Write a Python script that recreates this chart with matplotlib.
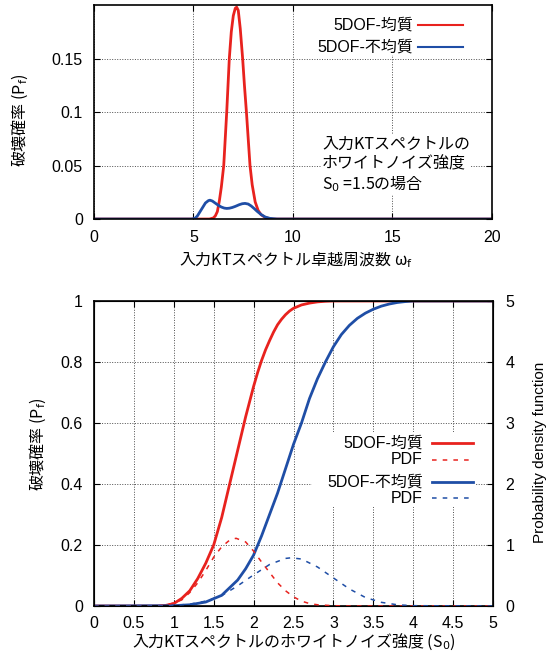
import matplotlib
matplotlib.use("Agg")
import matplotlib.pyplot as plt
from matplotlib.patches import Rectangle
from matplotlib.ticker import FuncFormatter

plt.rcParams['font.family'] = ['Liberation Sans', 'Noto Sans CJK JP', 'DejaVu Sans']
plt.rcParams['font.size'] = 11.5
JP = ['Noto Sans CJK JP', 'DejaVu Sans']  # for texts with mathtext parts

RED = '#e8221e'
BLUE = '#1f4ea6'

# top: failure probability vs predominant frequency (S0 = 1.5)
w_homo = [0, 5.8, 6.0, 6.1, 6.2, 6.3, 6.4, 6.52, 6.67, 6.8, 6.9, 7.0, 7.1, 7.17, 7.25, 7.35,
          7.47, 7.56, 7.66, 7.75, 7.84, 7.95, 8.1, 8.25, 8.4, 8.6, 8.8, 9.0, 20]
pf_homo = [0, 0, 0.001, 0.003, 0.007, 0.017, 0.03, 0.05, 0.10, 0.15, 0.175, 0.19, 0.197, 0.198,
           0.195, 0.178, 0.15, 0.125, 0.10, 0.075, 0.05, 0.032, 0.016, 0.008, 0.004, 0.0015,
           0.0005, 0, 0]
w_hetero = [0, 4.9, 5.0, 5.1, 5.2, 5.4, 5.6, 5.75, 5.83, 5.95, 6.1, 6.25, 6.4, 6.55, 6.67, 6.8,
            6.95, 7.1, 7.3, 7.45, 7.59, 7.75, 7.9, 8.05, 8.2, 8.4, 8.6, 8.84, 9.2, 20]
pf_hetero = [0, 0, 0.0003, 0.001, 0.003, 0.009, 0.015, 0.0172, 0.0176, 0.0168, 0.0148, 0.0128,
             0.0112, 0.0102, 0.0099, 0.0101, 0.0108, 0.0118, 0.0134, 0.0143, 0.0146, 0.0140,
             0.0122, 0.0098, 0.0072, 0.0042, 0.0019, 0.0006, 0, 0]

# bottom: failure probability and PDF vs white noise intensity S0
s_cdf_homo = [0, 0.8, 0.9, 1.0, 1.1, 1.2, 1.3, 1.4, 1.5, 1.6, 1.7, 1.8, 1.9, 2.0, 2.05, 2.1,
              2.15, 2.2, 2.25, 2.3, 2.35, 2.4, 2.45, 2.5, 2.6, 2.7, 2.8, 2.9, 3.0, 5]
cdf_homo = [0, 0, 0.002, 0.008, 0.025, 0.05, 0.09, 0.14, 0.20, 0.29, 0.40, 0.51, 0.62, 0.72,
            0.765, 0.805, 0.84, 0.87, 0.898, 0.922, 0.94, 0.955, 0.967, 0.976, 0.987, 0.993,
            0.997, 0.999, 1.0, 1.0]
s_pdf_homo = [0, 0.8, 0.9, 1.0, 1.1, 1.2, 1.3, 1.4, 1.5, 1.6, 1.7, 1.78, 1.9, 2.0, 2.1, 2.2,
              2.3, 2.4, 2.5, 2.6, 2.7, 2.8, 3.0, 3.2, 5]
pdf_homo = [0, 0.003, 0.015, 0.05, 0.10, 0.22, 0.38, 0.58, 0.80, 0.97, 1.08, 1.11, 1.05, 0.90,
            0.72, 0.55, 0.38, 0.25, 0.15, 0.08, 0.04, 0.02, 0.005, 0, 0]
s_cdf_hetero = [0, 1.0, 1.2, 1.4, 1.6, 1.8, 1.9, 2.0, 2.1, 2.2, 2.3, 2.4, 2.5, 2.6, 2.7, 2.8,
                2.9, 3.0, 3.1, 3.2, 3.3, 3.4, 3.5, 3.6, 3.7, 3.8, 3.9, 4.0, 5]
cdf_hetero = [0, 0.001, 0.004, 0.013, 0.035, 0.085, 0.122, 0.167, 0.23, 0.30, 0.37, 0.45, 0.53,
              0.60, 0.68, 0.745, 0.80, 0.85, 0.89, 0.92, 0.943, 0.96, 0.973, 0.983, 0.99,
              0.995, 0.998, 1.0, 1.0]
s_pdf_hetero = [0, 0.9, 1.0, 1.2, 1.4, 1.6, 1.8, 2.0, 2.2, 2.4, 2.47, 2.6, 2.8, 3.0, 3.2, 3.4,
                3.6, 3.8, 4.0, 5]
pdf_hetero = [0, 0.003, 0.01, 0.03, 0.08, 0.17, 0.33, 0.51, 0.68, 0.78, 0.79, 0.77, 0.64, 0.46,
              0.28, 0.14, 0.06, 0.02, 0.005, 0]

lab_homo = '5DOF-均質'
lab_hetero = '5DOF-不均質'

fmt = FuncFormatter(lambda v, p: '%g' % v)
grid_kw = dict(color='0.3', linestyle=(0, (1, 1.6)), linewidth=0.7)
dash = (0, (3, 4))

fig = plt.figure(figsize=(5.5, 6.54), dpi=100)

# ---------- top chart ----------
ax1 = fig.add_axes([0.1709, 0.6651, 0.7236, 0.3272])
ax1.plot(w_homo, pf_homo, color=RED, lw=2)
ax1.plot(w_hetero, pf_hetero, color=BLUE, lw=2)
ax1.set_xlim(0, 20)
ax1.set_ylim(0, 0.2)
ax1.set_xticks([0, 5, 10, 15, 20])
ax1.set_yticks([0, 0.05, 0.1, 0.15])
ax1.xaxis.set_major_formatter(fmt)
ax1.yaxis.set_major_formatter(fmt)
ax1.set_axisbelow(True)
ax1.grid(True, **grid_kw)
ax1.tick_params(direction='in', length=4, top=True, right=True)
ax1.tick_params(axis='x', pad=8)
ax1.tick_params(axis='y', pad=8)
for s in ax1.spines.values():
    s.set_linewidth(1.2)
ax1.set_xlabel('入力KTスペクトル卓越周波数 ω$_\\mathrm{f}$', family=JP)
ax1.xaxis.set_label_coords(0.507, -0.14)
ax1.set_ylabel('破壊確率 (P$_\\mathrm{f}$)', family=JP)
ax1.yaxis.set_label_coords(-0.161, 0.463)

ax1.add_patch(Rectangle((0.59, 0.765), 0.37, 0.235, transform=ax1.transAxes,
                        facecolor='white', edgecolor='none', zorder=1))
for yy, lab, col in [(0.907, lab_homo, RED), (0.804, lab_hetero, BLUE)]:
    ax1.text(0.8015, yy, lab, transform=ax1.transAxes, ha='right', va='center', zorder=3)
    ax1.plot([0.814, 0.927], [yy, yy], transform=ax1.transAxes, color=col, lw=1.5, zorder=3)

ax1.text(0.573, 0.252, '入力KTスペクトルの\nホワイトノイズ強度\nS$_0$ =1.5の場合',
         transform=ax1.transAxes, ha='left', va='center', linespacing=1.15, family=JP,
         bbox=dict(facecolor='white', edgecolor='none', pad=1), zorder=3)

# ---------- bottom chart ----------
ax = fig.add_axes([0.1709, 0.0734, 0.7255, 0.4664])
ax.plot(s_cdf_homo, cdf_homo, color=RED, lw=2)
ax.plot(s_cdf_hetero, cdf_hetero, color=BLUE, lw=2)
ax.set_xlim(0, 5)
ax.set_ylim(0, 1)
ax.set_xticks([0, 0.5, 1, 1.5, 2, 2.5, 3, 3.5, 4, 4.5, 5])
ax.set_yticks([0, 0.2, 0.4, 0.6, 0.8, 1])
ax.xaxis.set_major_formatter(fmt)
ax.yaxis.set_major_formatter(fmt)
ax.set_axisbelow(True)
ax.grid(True, **grid_kw)
ax.tick_params(direction='in', length=4, top=True)
ax.tick_params(axis='x', pad=7)
ax.tick_params(axis='y', pad=8)
for s in ax.spines.values():
    s.set_linewidth(1.2)
ax.set_xlabel('入力KTスペクトルのホワイトノイズ強度 (S$_0$)', family=JP)
ax.xaxis.set_label_coords(0.5, -0.085)
ax.set_ylabel('破壊確率 (P$_\\mathrm{f}$)', family=JP)
ax.yaxis.set_label_coords(-0.115, 0.531)

ax2 = ax.twinx()
ax2.plot(s_pdf_homo, pdf_homo, color=RED, lw=1.1, linestyle=dash)
ax2.plot(s_pdf_hetero, pdf_hetero, color=BLUE, lw=1.1, linestyle=dash)
ax2.set_ylim(0, 5)
ax2.set_yticks([0, 1, 2, 3, 4, 5])
ax2.yaxis.set_major_formatter(fmt)
ax2.tick_params(direction='in', length=4, pad=9)
ax2.set_ylabel('Probability density function', fontsize=11)
ax2.yaxis.set_label_coords(1.10, 0.502)

ax2.add_patch(Rectangle((0.546, 0.325), 0.409, 0.245, transform=ax2.transAxes,
                        facecolor='white', edgecolor='none', zorder=1))
rows = [(0.534, lab_homo, RED, '-'), (0.479, 'PDF', RED, dash),
        (0.407, lab_hetero, BLUE, '-'), (0.354, 'PDF', BLUE, dash)]
for yy, lab, col, ls in rows:
    ax2.text(0.8246, yy, lab, transform=ax2.transAxes, ha='right', va='center', zorder=3)
    ax2.plot([0.847, 0.950], [yy, yy], transform=ax2.transAxes, color=col,
             lw=2 if ls == '-' else 1.1, linestyle=ls, zorder=3)

fig.savefig('out.png', dpi=100)
